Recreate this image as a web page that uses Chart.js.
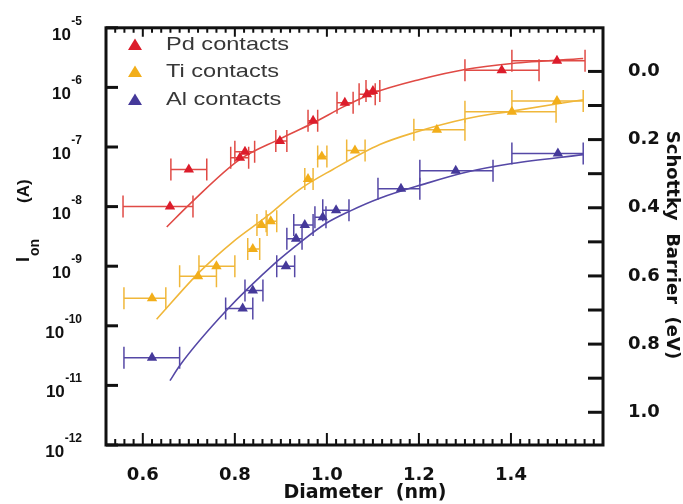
<!DOCTYPE html>
<html><head><meta charset="utf-8">
<script src="https://cdn.jsdelivr.net/npm/chart.js@4"></script>
<style>html,body{margin:0;padding:0;background:#fff;overflow:hidden}</style>
</head><body>
<canvas id="c" width="683" height="504"></canvas>
<script>
// ---- tick labels / categories ----
const xTicks = [0.6, 0.8, 1.0, 1.2, 1.4];
const barrierTicks = [0.0, 0.2, 0.4, 0.6, 0.8, 1.0];
const currentExps = [-12, -11, -10, -9, -8, -7, -6, -5];
const seriesNames = ['Pd contacts', 'Ti contacts', 'Al contacts'];

// ---- Pd data ----
const pdD  = [0.659, 0.700, 0.811, 0.822, 0.898, 0.970, 1.039, 1.087, 1.100, 1.380, 1.500];
const pdI  = [1.0e-8, 4.2e-8, 6.6e-8, 8.3e-8, 1.26e-7, 2.75e-7, 5.5e-7, 7.7e-7, 8.7e-7, 1.94e-6, 2.8e-6];
const pdLo = [0.557, 0.661, 0.791, 0.800, 0.889, 0.959, 1.022, 1.070, 1.085, 1.300, 1.402];
const pdHi = [0.709, 0.739, 0.830, 0.843, 0.913, 0.980, 1.057, 1.105, 1.115, 1.461, 1.561];
// ---- Ti data ----
const tiD  = [0.620, 0.720, 0.760, 0.839, 0.858, 0.878, 0.959, 0.989, 1.061, 1.239, 1.402, 1.500];
const tiI  = [2.9e-10, 6.8e-10, 1.0e-9, 1.95e-9, 4.9e-9, 5.7e-9, 2.9e-8, 6.9e-8, 8.7e-8, 1.95e-7, 3.9e-7, 5.9e-7];
const tiLo = [0.559, 0.680, 0.722, 0.828, 0.848, 0.868, 0.952, 0.980, 1.043, 1.189, 1.300, 1.402];
const tiHi = [0.650, 0.760, 0.800, 0.854, 0.870, 0.891, 0.970, 1.000, 1.083, 1.300, 1.498, 1.557];
// ---- Al data ----
const alD  = [0.620, 0.817, 0.839, 0.911, 0.933, 0.952, 0.991, 1.020, 1.161, 1.280, 1.502];
const alI  = [2.9e-11, 1.95e-10, 3.9e-10, 1.0e-9, 2.9e-9, 4.9e-9, 6.6e-9, 8.7e-9, 2.0e-8, 4.0e-8, 7.8e-8];
const alLo = [0.559, 0.780, 0.822, 0.891, 0.913, 0.928, 0.974, 0.991, 1.111, 1.202, 1.402];
const alHi = [0.680, 0.839, 0.861, 0.930, 0.946, 0.970, 0.998, 1.048, 1.202, 1.361, 1.557];
// ---- fitted curves ----
const pdFitD = [0.652, 0.702, 0.811, 0.898, 0.970, 1.039, 1.100, 1.202, 1.300, 1.402, 1.557];
const pdFitI = [4.55e-9, 1.10e-8, 6.2e-8, 1.37e-7, 2.53e-7, 4.85e-7, 8.0e-7, 1.36e-6, 2.0e-6, 2.52e-6, 3.06e-6];
const tiFitD = [0.630, 0.724, 0.796, 0.870, 0.941, 1.013, 1.115, 1.189, 1.300, 1.402, 1.557];
const tiFitI = [1.29e-10, 8.1e-10, 2.57e-9, 6.9e-9, 1.95e-8, 4.2e-8, 1.1e-7, 1.74e-7, 2.95e-7, 4.0e-7, 6.2e-7];
const alFitD = [0.659, 0.680, 0.780, 0.891, 0.941, 0.996, 1.050, 1.115, 1.209, 1.300, 1.402, 1.557];
const alFitI = [1.2e-11, 2.14e-11, 1.75e-10, 1.19e-9, 2.47e-9, 5.1e-9, 8.4e-9, 1.38e-8, 2.36e-8, 3.73e-8, 5.27e-8, 7.45e-8];

const markerCol = ['#dc1c2b', '#f2ae1a', '#45399a'];
const lineCol   = ['#e04a45', '#f0b73a', '#5548a6'];

const pts = (d, v) => d.map((x, k) => ({x: x, y: v[k]}));
const errSets = [
  {i: pdI, lo: pdLo, hi: pdHi, c: lineCol[0]},
  {i: tiI, lo: tiLo, hi: tiHi, c: lineCol[1]},
  {i: alI, lo: alLo, hi: alHi, c: lineCol[2]}
];

const decor = {
  id: 'decor',
  beforeDatasetsDraw(chart) {
    const {ctx, chartArea: a} = chart;
    const x = chart.scales.x, y = chart.scales.y;
    ctx.save();
    ctx.beginPath(); ctx.rect(a.left, a.top, a.width, a.height); ctx.clip();
    ctx.lineWidth = 1.5;
    for (const s of errSets) {
      ctx.strokeStyle = s.c;
      for (let k = 0; k < s.i.length; k++) {
        const py = y.getPixelForValue(s.i[k]);
        const x1 = x.getPixelForValue(s.lo[k]);
        const x2 = x.getPixelForValue(s.hi[k]);
        ctx.beginPath();
        ctx.moveTo(x1, py); ctx.lineTo(x2, py);
        ctx.moveTo(x1, py - 11); ctx.lineTo(x1, py + 11);
        ctx.moveTo(x2, py - 11); ctx.lineTo(x2, py + 11);
        ctx.stroke();
      }
    }
    ctx.restore();
  },
  afterDraw(chart) {
    const {ctx, chartArea: a} = chart;
    const x = chart.scales.x, y = chart.scales.y, y2 = chart.scales.y2;
    ctx.save();
    ctx.strokeStyle = '#111';
    // ticks bottom/top
    ctx.lineWidth = 2;
    for (let v = 0.54; v < 1.6; v += 0.02) {
      const vv = Math.round(v * 100) / 100;
      const px = x.getPixelForValue(vv);
      const major = Math.abs(vv * 5 - Math.round(vv * 5)) < 1e-6;
      ctx.beginPath();
      ctx.moveTo(px, a.bottom); ctx.lineTo(px, a.bottom - (major ? 12 : 6));
      ctx.moveTo(px, a.top); ctx.lineTo(px, a.top + (major ? 9 : 5));
      ctx.stroke();
    }
    // left ticks
    ctx.lineWidth = 3;
    for (const e of currentExps) {
      const py = y.getPixelForValue(Math.pow(10, e));
      ctx.beginPath(); ctx.moveTo(a.left, py); ctx.lineTo(a.left + 12, py); ctx.stroke();
    }
    // right ticks every 0.1
    for (let k = 0; k <= 10; k++) {
      const py = y2.getPixelForValue(k / 10);
      ctx.beginPath(); ctx.moveTo(a.right, py); ctx.lineTo(a.right - 15, py); ctx.stroke();
    }
    // frame
    ctx.lineWidth = 3;
    ctx.strokeRect(a.left, a.top, a.right - a.left, a.bottom - a.top);

    // left tick labels 10^n
    ctx.fillStyle = '#111';
    ctx.textBaseline = 'alphabetic';
    for (const e of currentExps) {
      const py = y.getPixelForValue(Math.pow(10, e));
      const es = String(e);
      ctx.font = 'bold 12px "Liberation Sans"';
      const ew = ctx.measureText(es).width;
      ctx.textAlign = 'left';
      ctx.fillText(es, 82 - ew, py - 3);
      ctx.font = 'bold 17px "Liberation Sans"';
      ctx.textAlign = 'right';
      ctx.fillText('10', 82 - ew - 0.5, py + 12);
    }

    // left title I_on (A)
    ctx.save();
    ctx.translate(29, 0);
    ctx.rotate(-Math.PI / 2);
    ctx.textAlign = 'left';
    ctx.font = 'bold 18px "Liberation Sans"';
    ctx.fillText('I', -262, 0);
    ctx.font = 'bold 14px "Liberation Sans"';
    ctx.fillText('on', -256, 10);
    ctx.font = 'bold 17px "Liberation Sans"';
    ctx.fillText('(A)', -203, 0);
    ctx.restore();

    // bottom title
    ctx.font = 'bold 19px "DejaVu Sans"';
    ctx.textAlign = 'center';
    ctx.fillText('Diameter  (nm)', 365, 498);

    // right title
    ctx.save();
    ctx.translate(667, 245);
    ctx.rotate(Math.PI / 2);
    ctx.font = 'bold 18px "DejaVu Sans"';
    ctx.textAlign = 'center';
    ctx.fillText('Schottky  Barrier  (eV)', 0, 0);
    ctx.restore();

    // legend
    const ly = [50, 77, 105];
    for (let k = 0; k < 3; k++) {
      ctx.fillStyle = markerCol[k];
      ctx.beginPath();
      ctx.moveTo(135, ly[k] - 11.5);
      ctx.lineTo(142, ly[k]);
      ctx.lineTo(128, ly[k]);
      ctx.closePath(); ctx.fill();
      ctx.save();
      ctx.fillStyle = '#383838';
      ctx.font = '19px "Liberation Sans"';
      ctx.textAlign = 'left';
      ctx.translate(166, ly[k]);
      ctx.scale(1.24, 1);
      ctx.fillText(seriesNames[k], 0, 0);
      ctx.restore();
    }
    ctx.restore();
  }
};

const tickFont = {family: 'DejaVu Sans', weight: 'bold', size: 18};

new Chart(document.getElementById('c'), {
  type: 'scatter',
  data: {
    datasets: [
      {label: seriesNames[0], data: pts(pdD, pdI), pointStyle: 'triangle', pointRadius: 6, backgroundColor: markerCol[0], borderColor: markerCol[0], borderWidth: 0},
      {label: seriesNames[1], data: pts(tiD, tiI), pointStyle: 'triangle', pointRadius: 6, backgroundColor: markerCol[1], borderColor: markerCol[1], borderWidth: 0},
      {label: seriesNames[2], data: pts(alD, alI), pointStyle: 'triangle', pointRadius: 6, backgroundColor: markerCol[2], borderColor: markerCol[2], borderWidth: 0},
      {label: 'Pd fit', data: pts(pdFitD, pdFitI), showLine: true, pointRadius: 0, borderColor: lineCol[0], borderWidth: 1.6, cubicInterpolationMode: 'monotone'},
      {label: 'Ti fit', data: pts(tiFitD, tiFitI), showLine: true, pointRadius: 0, borderColor: lineCol[1], borderWidth: 1.6, cubicInterpolationMode: 'monotone'},
      {label: 'Al fit', data: pts(alFitD, alFitI), showLine: true, pointRadius: 0, borderColor: lineCol[2], borderWidth: 1.6, cubicInterpolationMode: 'monotone'}
    ]
  },
  options: {
    responsive: false,
    devicePixelRatio: 1,
    animation: false,
    layout: {padding: {top: 24, left: 0, right: 0, bottom: 0}},
    plugins: {legend: {display: false}, tooltip: {enabled: false}},
    scales: {
      x: {
        type: 'linear', position: 'bottom', min: 0.52, max: 1.6,
        grid: {display: false}, border: {display: false},
        afterBuildTicks: s => { s.ticks = xTicks.map(v => ({value: v})); },
        afterFit: s => { s.height = 59; },
        ticks: {font: tickFont, color: '#111', padding: 12, autoSkip: false, maxRotation: 0,
                callback: v => Number(v).toFixed(1)}
      },
      y: {
        type: 'logarithmic', position: 'left', min: 1e-12, max: 1e-5,
        grid: {display: false}, border: {display: false},
        afterBuildTicks: s => { s.ticks = currentExps.map(e => ({value: Math.pow(10, e)})); },
        afterFit: s => { s.width = 106; },
        ticks: {display: false}
      },
      y2: {
        type: 'linear', position: 'right', reverse: true, min: -0.128, max: 1.096,
        grid: {display: false}, border: {display: false},
        afterBuildTicks: s => { s.ticks = barrierTicks.map(v => ({value: v})); },
        afterFit: s => { s.width = 80; },
        ticks: {font: tickFont, color: '#111', padding: 17, autoSkip: false,
                callback: v => Number(v).toFixed(1)}
      }
    }
  },
  plugins: [decor]
});
</script>
</body></html>
